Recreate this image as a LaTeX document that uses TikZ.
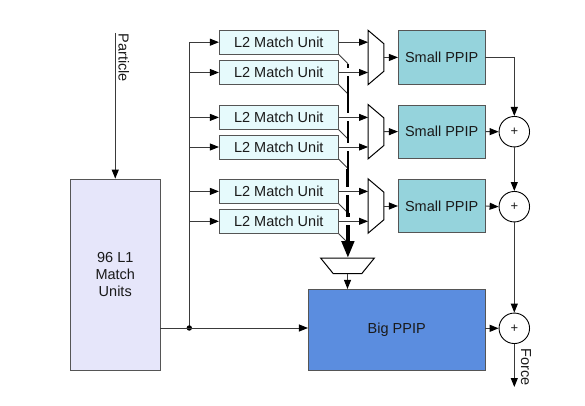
\documentclass[tikz,border=0pt]{standalone}
\usepackage{fontspec}
\setmainfont{Liberation Sans}
\usetikzlibrary{arrows.meta,calc}
\definecolor{lone}{HTML}{E6E6FA}
\definecolor{ltwo}{HTML}{E6FAFC}
\definecolor{sppip}{HTML}{95D3DC}
\definecolor{bppip}{HTML}{5B8DDF}
\definecolor{ln}{HTML}{3A3A3A}
\definecolor{bd}{HTML}{555555}
\definecolor{txt}{HTML}{1A1A1A}
\begin{document}
\begin{tikzpicture}[x=1pt,y=-1pt,
  font=\fontsize{14.5}{17}\selectfont, text=txt,
  box/.style={draw=bd, line width=0.8pt, inner sep=0pt, align=center},
  l2box/.style={box, fill=ltwo, minimum width=119pt, minimum height=23.8pt},
  spbox/.style={box, fill=sppip, minimum width=86.7pt, minimum height=53.3pt},
  muxbox/.style={inner sep=0pt, minimum width=15.5pt, minimum height=54pt},
  muxline/.style={draw=black, line width=1pt, fill=white},
  plus/.style={circle, draw=black, line width=0.9pt, fill=white, minimum size=30.5pt, inner sep=0pt, font=\fontsize{13}{13}\selectfont},
  conn/.style={draw=ln, line width=0.9pt, -{Triangle[length=9pt,width=7pt,fill=black,color=black]}},
  wire/.style={draw=ln, line width=0.9pt},
  rlabel/.style={rotate=-90, anchor=base west, inner sep=0pt},
]
\useasboundingbox (0,0) rectangle (585,406);

% L1 block
\node[box, fill=lone, minimum width=89.5pt, minimum height=191.7pt] (l1) at (115.25,274.85) {96 L1\\Match\\Units};
\coordinate (pin) at (115.25,33);
\draw[conn] (pin) -- (l1.north);
\node[rlabel] at (118.5,33.5) {Particle};

% L2 blocks
\foreach \n/\y in {a/42.2, b/72.5, c/117.4, d/147, e/191.4, f/221.3}
  \node[l2box] (l2\n) at (278.8,\y) {L2 Match Unit};

% Big PPIP
\node[box, fill=bppip, minimum width=176.7pt, minimum height=80.7pt] (bp) at (396.7,329.7) {Big PPIP};

% distribution bus
\coordinate (bt) at (189.3,42.2);
\coordinate (bj) at (189.3,328);
\draw[wire] (bt) -- (bj);
\fill[black] (bj) circle (2.7pt);
\foreach \n in {a,b,c,d,e,f}
  \draw[conn] (bt |- l2\n.west) -- (l2\n.west);
\draw[conn] (l1.east |- bj) -- (bp.west |- bj);

% muxes
\node[muxbox] (m1) at (376,57.5) {};
\node[muxbox] (m2) at (376,131.7) {};
\node[muxbox] (m3) at (376,206) {};
\foreach \m in {m1,m2,m3}
  \draw[muxline] (\m.north west) -- ($(\m.north east)+(0,13.5)$) -- ($(\m.south east)+(0,-13.5)$) -- (\m.south west) -- cycle;

% bottom mux
\node[inner sep=0pt, minimum width=53.3pt, minimum height=15pt] (bm) at (347.5,265.8) {};
\draw[muxline] (bm.north west) -- (bm.north east) -- ($(bm.south east)+(-12.5,0)$) -- ($(bm.south west)+(12.5,0)$) -- cycle;
\draw[conn] (bm.south) -- (bm.south |- bp.north);

% collection bus (junctions)
\foreach \n in {a,b,c,d,e,f}
  \coordinate (j\n) at ($(l2\n.south east)+(9.2,9.2)$);
\foreach \n in {a,b,c,d,e,f}
  \draw[wire] (l2\n.south east) -- (j\n);
\draw[black, line width=1.2pt] (ja) -- (jb);
\draw[black, line width=2pt] (jb) -- (jc);
\draw[black, line width=2.5pt] (jc) -- (jd);
\draw[black, line width=3pt] (jd) -- (je);
\draw[black, line width=3.5pt] (je) -- (jf);
\draw[black, line width=4.5pt, -{Triangle[length=17pt,width=12pt]}] (jf) -- (jf |- bm.north);

% gaps where outputs cross the bus
\foreach \n in {b,c,d,e,f}
  \fill[white] ($(ja |- l2\n.east)+(-4.5,-4)$) rectangle ($(ja |- l2\n.east)+(4.5,4)$);

% L2 -> mux
\foreach \n/\m in {a/m1,b/m1,c/m2,d/m2,e/m3,f/m3}
  \draw[conn] (l2\n.east) -- (l2\n.east -| \m.west);

% Small PPIPs
\node[spbox] (s1) at (441.7,57.4) {Small PPIP};
\node[spbox] (s2) at (441.7,131.6) {Small PPIP};
\node[spbox] (s3) at (441.7,206) {Small PPIP};
\draw[conn] (m1.east) -- (s1.west);
\draw[conn] (m2.east) -- (s2.west);
\draw[conn] (m3.east) -- (s3.west);

% adders
\node[plus] (p2) at (514.3,131.7) {+};
\node[plus] (p3) at (514.3,206.7) {+};
\node[plus] (p4) at (514.3,328.3) {+};
\draw[conn] (s1.east) -| (p2.north);
\draw[conn] (s2.east) -- (p2.west);
\draw[conn] (p2.south) -- (p3.north);
\draw[conn] (s3.east) -- (p3.west);
\draw[conn] (p3.south) -- (p4.north);
\draw[conn] (bp.east |- p4.west) -- (p4.west);
\coordinate (fout) at (514.3,387);
\draw[conn] (p4.south) -- (fout);
\node[rlabel] at (521,348.5) {Force};
\end{tikzpicture}
\end{document}
